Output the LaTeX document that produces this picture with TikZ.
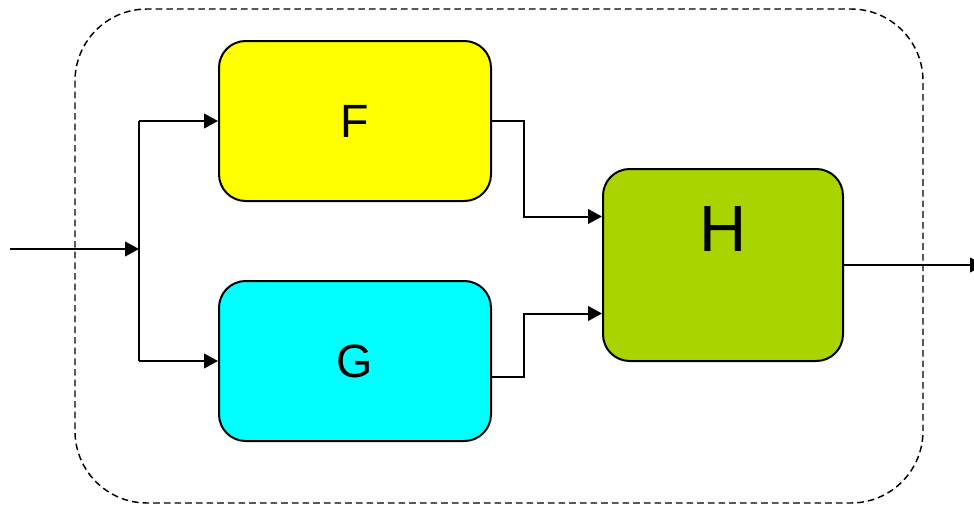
\documentclass[tikz,border=0pt]{standalone}
\usepackage{fontspec}
\setmainfont{Liberation Sans}
\usepackage{tikz}
\usetikzlibrary{arrows.meta,calc}

\definecolor{boxF}{RGB}{255,255,0}
\definecolor{boxG}{RGB}{0,255,255}
\definecolor{boxH}{RGB}{170,212,0}

\begin{document}
\begin{tikzpicture}[x=0.75pt,y=0.75pt,yscale=-1,xscale=1,
  block/.style={draw,line width=1.5pt,rounded corners=20pt,inner sep=0pt,
    minimum width=204pt,minimum height=120pt,font=\fontsize{35}{40}\selectfont},
  wire/.style={line width=1.5pt},
  arr/.style={wire,-{Triangle[length=10.5pt,width=11pt]}}]
%set diagram size 974 x 507
\useasboundingbox (0,0) rectangle (974,507);
%Dashed outer frame
\draw [line width=1.1pt,dash pattern=on 5pt off 3pt,rounded corners=54pt] (75,9) rectangle (923,503);

%Blocks
\node [block,fill=boxF] (F) at (355,121) {F};
\node [block,fill=boxG] (G) at (355,361) {G};
\node [block,fill=boxH,minimum width=180pt,minimum height=144pt] (H) at (723,265) {};
\node [font=\fontsize{49}{54}\selectfont,inner sep=0pt] (Hlbl) at (723,229) {H};

%Points on the wires
\coordinate (in) at (10,249);
\coordinate (split) at (139,249);
\coordinate (hinF) at ($(H.north west)!0.25!(H.south west)$);
\coordinate (hinG) at ($(H.north west)!0.75!(H.south west)$);
\coordinate (gout) at ($(G.east)+(0,16)$);
\coordinate (out) at (984,265);

%Input and split
\draw [arr] (in) -- (split);
\draw [wire] (split |- F.west) -- (split |- G.west);
\draw [arr] (split |- F.west) -- (F.west);
\draw [arr] (split |- G.west) -- (G.west);

%F and G into H
\draw [arr] (F.east) -- ++(32,0) |- (hinF);
\draw [arr] (gout) -- ++(32,0) |- (hinG);

%Output
\draw [arr] (H.east) -- (out);
\end{tikzpicture}
\end{document}
